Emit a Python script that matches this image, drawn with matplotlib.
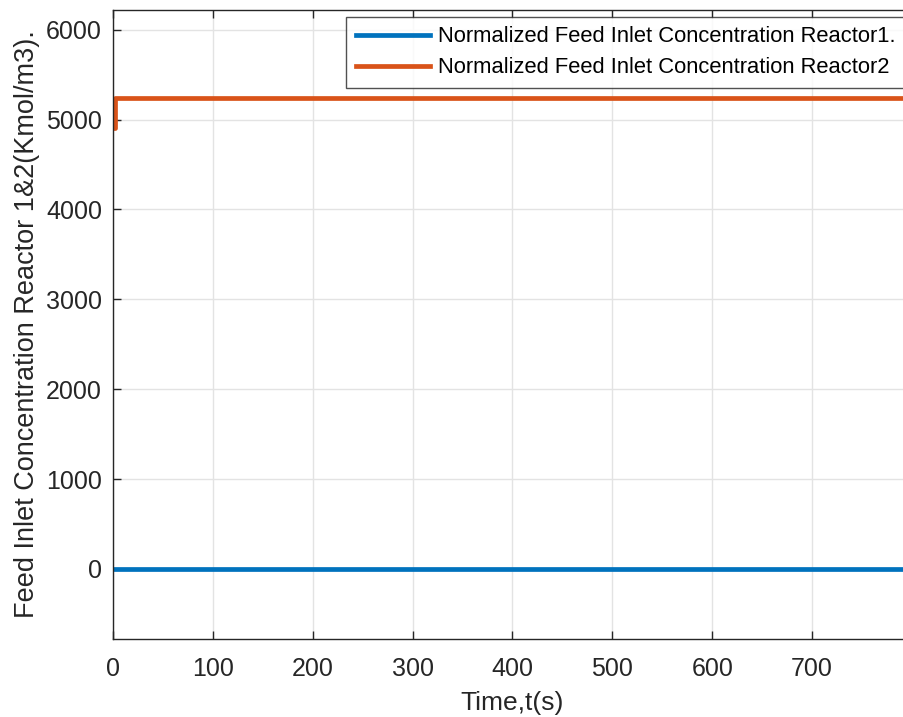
import numpy as np
import matplotlib.pyplot as plt

plt.rcParams['font.family'] = ['Liberation Sans', 'DejaVu Sans']

# Data
t_r1 = [0, 800]
c_r1 = [0, 0]
t_r2 = [0, 2, 2, 800]
c_r2 = [4910, 4910, 5245, 5245]

x_ticks = [0, 100, 200, 300, 400, 500, 600, 700]
y_ticks = [0, 1000, 2000, 3000, 4000, 5000, 6000]

fig = plt.figure(figsize=(9.04, 7.17), dpi=100)
# axes extends past the right edge like the original crop
ax = fig.add_axes([113 / 904, 1 - 639 / 717, 799 / 904, 629 / 717])

ax.plot(t_r1, c_r1, color='#0072BD', lw=3.4, label='Normalized Feed Inlet Concentration Reactor1.')
ax.plot(t_r2, c_r2, color='#D95319', lw=3.4, label='Normalized Feed Inlet Concentration Reactor2')

ax.set_xlim(0, 800)
ax.set_ylim(-780, 6220)
ax.set_xticks(x_ticks)
ax.set_yticks(y_ticks)
ax.grid(True, color='#e3e3e3', lw=1)
ax.set_axisbelow(True)

ax.tick_params(direction='in', length=6, width=1, colors='#262626', labelsize=18,
               top=True, right=True)
ax.tick_params(axis='x', pad=13)
ax.tick_params(axis='y', pad=8)
for s in ax.spines.values():
    s.set_color('#262626')
    s.set_linewidth(1)

ax.set_xlabel('Time,t(s)', fontsize=19, color='#262626', labelpad=7)
ax.set_ylabel('Feed Inlet Concentration Reactor 1&2(Kmol/m3).', fontsize=19.5,
              color='#262626', labelpad=4)

leg = ax.legend(loc='upper right', fontsize=15.8, frameon=True, fancybox=False,
                edgecolor='#262626', handlelength=3.4, borderaxespad=0.3,
                borderpad=0.45, labelspacing=0.45, handletextpad=0.35)
leg.get_frame().set_linewidth(1)

fig.savefig('out.png', dpi=100)
